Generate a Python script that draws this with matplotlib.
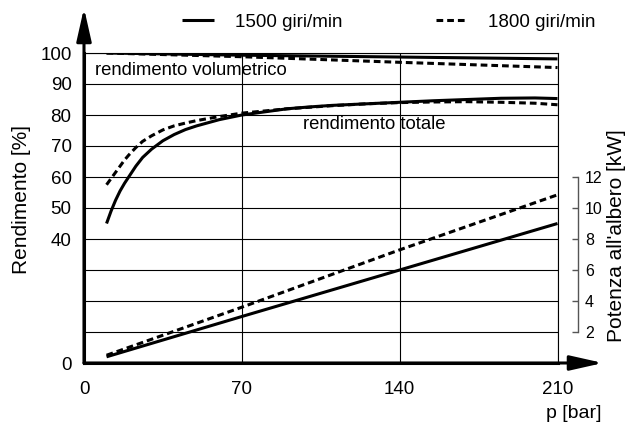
import matplotlib
matplotlib.use("Agg")
import matplotlib.pyplot as plt
from matplotlib.lines import Line2D

plt.rcParams['font.family'] = ['Liberation Sans', 'DejaVu Sans']

# pressure [bar] for total efficiency
p_eff_1500 = [10, 12, 14, 16, 18, 20, 23, 26, 30, 35, 40, 45, 50, 55, 60, 70, 80, 90,
              100, 110, 125, 140, 155, 170, 185, 200, 210]
tot_1500 = [45, 49, 52.5, 55.5, 58, 60.2, 63.5, 66.3, 69, 71.7, 73.7, 75.3, 76.5, 77.5,
            78.5, 80, 81, 82, 82.6, 83.1, 83.6, 84.1, 84.6, 85, 85.4, 85.5, 85.3]
p_eff_1800 = [10, 12, 14, 16, 18, 20, 23, 26, 30, 35, 40, 45, 50, 60, 70, 80, 90,
              110, 125, 140, 155, 170, 185, 200, 210]
tot_1800 = [57.5, 59.5, 61.5, 63.5, 65.5, 67.2, 69.5, 71.5, 73.3, 75.2, 76.5, 77.4, 78.2,
            79.5, 80.6, 81.3, 82, 83, 83.6, 84, 84.2, 84.3, 84.1, 83.8, 83.3]
# volumetric efficiency [%]
p_vol = [10, 70, 140, 210]
vol_1500 = [100, 99.3, 98.7, 98.1]
vol_1800 = [100, 98.8, 97.0, 95.3]
# shaft power [kW]
p_pow = [10, 70, 140, 210]
pow_1500 = [0.4, 3.0, 6.0, 9.0]
pow_1800 = [0.5, 3.6, 7.3, 10.85]

xticks = [0, 70, 140, 210]
yticks = [0, 10, 20, 30, 40, 50, 60, 70, 80, 90, 100]
ylabels = ['0', '', '', '', '40', '50', '60', '70', '80', '90', '100']
pticks = [2, 4, 6, 8, 10, 12]

W, H = 627, 425
fig = plt.figure(figsize=(W / 100, H / 100), dpi=100)
x0, x1 = 84, 557.5
y0, y1 = 363, 53
ax = fig.add_axes([x0 / W, 1 - y0 / H, (x1 - x0) / W, (y0 - y1) / H])
ax.set_xlim(0, 210)
ax.set_ylim(0, 100)

lw = 2.2
dash = (0, (2.2, 1.3))
ax.plot(p_eff_1500, tot_1500, color='black', lw=lw, solid_capstyle='butt')
ax.plot(p_eff_1800, tot_1800, color='black', lw=lw, linestyle=dash)
ax.plot(p_vol, vol_1500, color='black', lw=lw, solid_capstyle='butt')
ax.plot(p_vol, vol_1800, color='black', lw=lw, linestyle=dash)

ax2 = ax.twinx()
ax2.set_ylim(0, 20)
ax2.plot(p_pow, pow_1500, color='black', lw=lw, solid_capstyle='butt')
ax2.plot(p_pow, pow_1800, color='black', lw=lw, linestyle=dash)

# grid
ax.set_xticks(xticks)
ax.set_yticks(yticks)
ax.set_yticklabels(ylabels)
ax.grid(True, color='black', lw=0.8)
ax.tick_params(axis='both', length=0, labelsize=13.5)
ax.tick_params(axis='y', pad=9)
ax.tick_params(axis='x', pad=13)
for s in ['top', 'right']:
    ax.spines[s].set_linewidth(0.8)
for s in ['left', 'bottom']:
    ax.spines[s].set_linewidth(2.2)

# arrows on axes
astyle = '-|>,head_length=2.0,head_width=0.45'
ax.annotate('', xy=((603 - x0) / (x1 - x0), 0), xytext=(0, 0), xycoords='axes fraction',
            arrowprops=dict(arrowstyle=astyle, lw=2.2, color='black',
                            shrinkA=0, shrinkB=0), annotation_clip=False)
ax.annotate('', xy=(0, (y0 - 8) / (y0 - y1)), xytext=(0, 0), xycoords='axes fraction',
            arrowprops=dict(arrowstyle=astyle, lw=2.2, color='black',
                            shrinkA=0, shrinkB=0), annotation_clip=False)

# right axis
for s in ['left', 'top', 'bottom']:
    ax2.spines[s].set_visible(False)
ax2.spines['right'].set_position(('axes', (578 - x0) / (x1 - x0)))
ax2.spines['right'].set_bounds(2, 12)
ax2.spines['right'].set_color('#555555')
ax2.spines['right'].set_linewidth(1.0)
ax2.set_yticks(pticks)
ax2.tick_params(axis='y', direction='in', length=4, width=1.0, color='#555555',
                labelsize=11.5, pad=5)

# labels
ax.text((22 - x0) / (x1 - x0), (y0 - 199) / (y0 - y1), 'Rendimento [%]', rotation=90,
        ha='center', va='center', fontsize=15, transform=ax.transAxes)
ax.text((617 - x0) / (x1 - x0), (y0 - 236) / (y0 - y1), "Potenza all'albero [kW]",
        rotation=90, ha='center', va='center', fontsize=15, transform=ax.transAxes)
ax.text((601 - x0) / (x1 - x0), (y0 - 413) / (y0 - y1), 'p [bar]', ha='right', va='center',
        fontsize=14, transform=ax.transAxes)

ax.text(4.8, 94.3, 'rendimento volumetrico', fontsize=13.3, ha='left', va='center')
ax.text(97, 76.8, 'rendimento totale', fontsize=13.3, ha='left', va='center')

# legend
handles = [Line2D([], [], color='black', lw=lw, solid_capstyle='butt'),
           Line2D([], [], color='black', lw=lw, linestyle=dash)]
ax.legend(handles, ['1500 giri/min', '1800 giri/min'], ncol=2, frameon=False,
          fontsize=13.5, handlelength=1.7, handletextpad=1.1, columnspacing=5.0,
          loc='center', bbox_to_anchor=((389 - x0) / (x1 - x0), (y0 - 22) / (y0 - y1)),
          borderaxespad=0)

fig.savefig('out.png', dpi=100)
